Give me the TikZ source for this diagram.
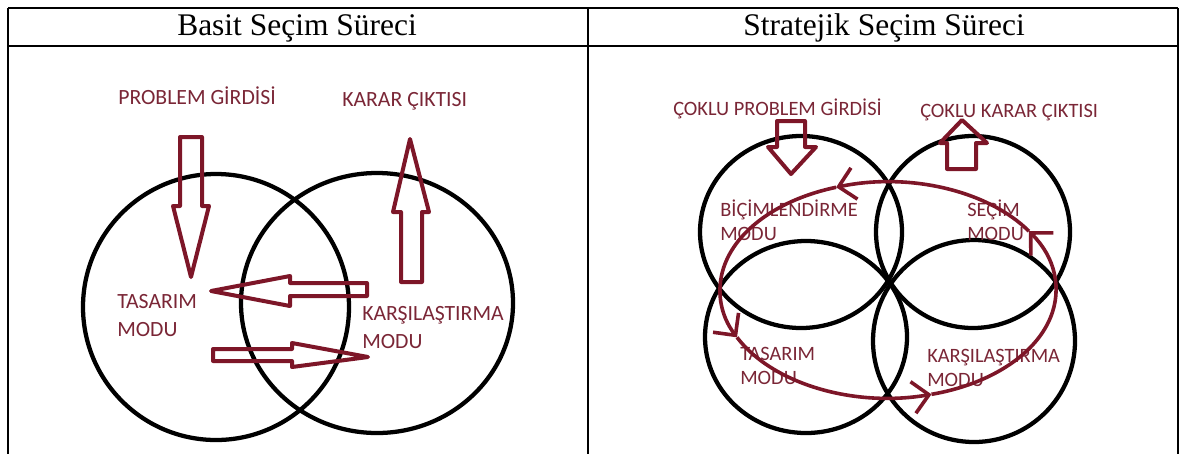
\documentclass[tikz,border=0pt]{standalone}
\usepackage{fontspec}
\setmainfont{Liberation Serif}
\newfontfamily\modfont{Carlito}
\usepackage{xcolor}
\usepackage{tikz}
\usetikzlibrary{arrows.meta, positioning}

\definecolor{bordo}{RGB}{125,22,40}
\definecolor{yazi}{RGB}{122,38,54}

\begin{document}
\begin{tikzpicture}[
    x=0.75pt, y=-0.75pt,
    tablo/.style={line width=1.5pt},
    halka/.style={line width=3.2pt},
    blok/.style={draw=bordo, line width=3pt, line join=round},
    baslik/.style={anchor=base, inner sep=0pt, font=\fontsize{23.6}{28}\selectfont},
    etiket/.style={anchor=base west, inner sep=0pt, text=yazi, align=left,
        font=\modfont\fontsize{16.3}{21}\selectfont},
    ketiket/.style={etiket, font=\modfont\fontsize{15.3}{18}\selectfont},
    dongu/.style={draw=bordo, line width=2.7pt,
        -{Straight Barb[length=12pt, width=24pt]}}
]

    \useasboundingbox (0,0) rectangle (1180,454);

    % 1. Tablo çizgileri
    \draw[tablo]
        (8,8) -- (1178,8)
        (8,45.5) -- (1178,45.5)
        (8,8) -- (8,454)
        (588,8) -- (588,454)
        (1178,8) -- (1178,454);

    % Başlıklar
    \node[baslik] (basit) at (297,35) {Basit Seçim Süreci};
    \node[baslik] (strateji) at (884,35) {Stratejik Seçim Süreci};

    % 2. Basit süreç: iki daire
    \draw[halka] (216,307) ellipse[x radius=133, y radius=133];
    \draw[halka] (377,303) ellipse[x radius=136, y radius=130];

    % Metinler (taban çizgisi son satırda)
    \node[etiket] (girdi) at (118,104) {PROBLEM GİRDİSİ};
    \node[etiket] (cikti) at (342,106) {KARAR ÇIKTISI};
    \node[etiket] (tasarim) at (117,336) {TASARIM\\MODU};
    \node[etiket] (karsi) at (362,348) {KARŞILAŞTIRMA\\MODU};

    % 3. Blok oklar
    \draw[blok]
        (180,137) -- (202,137) -- (202,206) -- (209,206) --
        (191,277) -- (173,206) -- (180,206) -- cycle;

    \draw[blok]
        (401,282) -- (401,212) -- (393,212) -- (410,139) --
        (429,212) -- (422,212) -- (422,282) -- cycle;

    \draw[blok]
        (211,291) -- (290,276) -- (290,283) -- (367,283) --
        (367,296) -- (290,296) -- (290,306) -- cycle;

    \draw[blok]
        (213,349) -- (292,349) -- (292,343) -- (368,357) --
        (292,367) -- (292,361) -- (213,361) -- cycle;

    % 4. Stratejik süreç: dört daire
    \draw[halka] (801,232) ellipse[x radius=101, y radius=96];
    \draw[halka] (973,232) ellipse[x radius=97, y radius=96];
    \draw[halka] (806,337) ellipse[x radius=101, y radius=96];
    \draw[halka] (974,341) ellipse[x radius=101, y radius=101];

    % Metinler
    \node[ketiket] (cgirdi) at (673,115) {ÇOKLU PROBLEM GİRDİSİ};
    \node[ketiket] (ccikti) at (920,117) {ÇOKLU KARAR ÇIKTISI};
    \node[ketiket] (bicim) at (720,240) {BİÇİMLENDİRME\\MODU};
    \node[ketiket] (secim) at (967,240) {SEÇİM\\MODU};
    \node[ketiket] (ctasarim) at (740,384) {TASARIM\\MODU};
    \node[ketiket] (ckarsi) at (927,386) {KARŞILAŞTIRMA\\MODU};

    % 5. Döngü elipsi (dört parça, uçlarında ok)
    \draw[dongu] (888,290) ++(-33:168 and 108)
        arc[start angle=-33, end angle=-108, x radius=168, y radius=108];
    \draw[dongu] (888,290) ++(-108:168 and 108)
        arc[start angle=-108, end angle=-206, x radius=168, y radius=108];
    \draw[dongu] (888,290) ++(-206:168 and 108)
        arc[start angle=-206, end angle=-285, x radius=168, y radius=108];
    \draw[dongu] (888,290) ++(-285:168 and 108)
        arc[start angle=-285, end angle=-393, x radius=168, y radius=108];

    % 6. Çoklu girdi / çıktı okları
    \draw[blok]
        (777,121) -- (805,121) -- (805,147) -- (816,147) --
        (791,174) -- (768,147) -- (777,147) -- cycle;

    \draw[blok]
        (947,169) -- (947,143) -- (940,143) -- (962,120) --
        (987,143) -- (976,143) -- (976,169) -- cycle;

\end{tikzpicture}
\end{document}
